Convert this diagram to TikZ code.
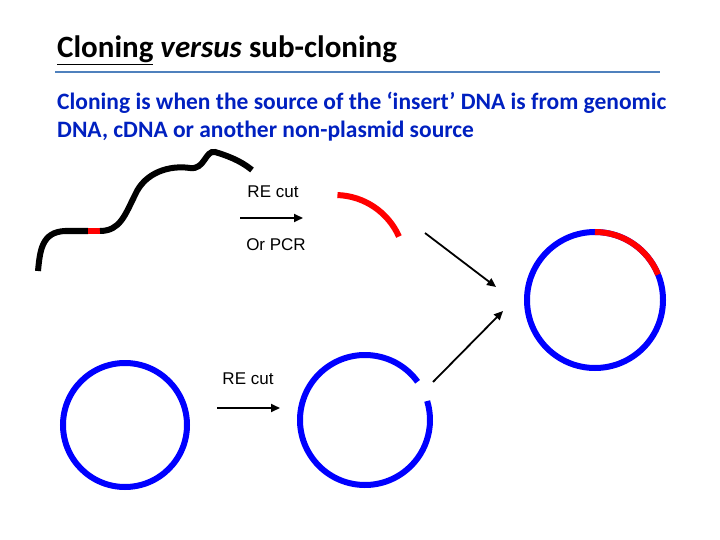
\documentclass[tikz,border=0pt]{standalone}
\usepackage{fontspec}
\setmainfont{Carlito}
\newfontfamily\arial{Liberation Sans}
\usetikzlibrary{arrows.meta}
\definecolor{tblue}{RGB}{0,32,192}
\definecolor{rule}{RGB}{79,129,189}
\begin{document}
\begin{tikzpicture}[x=1pt,y=-1pt,
  dna/.style={line width=6pt},
  arr/.style={line width=1.8pt,-{Triangle[length=9pt,width=8pt]}},
  lbl/.style={font=\arial\fontsize{17}{20}\selectfont,anchor=base}]
\useasboundingbox (0,0) rectangle (720,540);
\node[anchor=base west,inner sep=0,font=\bfseries\fontsize{31}{36}\selectfont] (title) at (57,58) {\underline{Cloning} \textit{versus} sub-cloning};
\draw[rule,line width=1.5pt] (55,72) -- (660,72);
\node[anchor=base west,inner sep=0,align=left,text=tblue,font=\bfseries\fontsize{23.5}{28}\selectfont] (sub) at (57,138) {Cloning is when the source of the ‘insert’ DNA is from genomic\\DNA, cDNA or another non-plasmid source};
% genomic DNA
\draw[dna] (38,271) .. controls (40,250) and (42,232) .. (65,231) -- (88,231);
\draw[dna,red] (88,231) -- (100,231);
\draw[dna] (100,231) .. controls (120,231) and (125,215) .. (135,195) .. controls (145,172) and (170,165) .. (190,168) .. controls (205,170) and (205,150) .. (215,152) .. controls (225,155) and (240,160) .. (252,170);
\draw[dna,red] (335,265) ++(-88:70) arc[start angle=-88,end angle=-24,radius=70];
% circles
\draw[dna,blue] (125,425) circle[radius=62];
\draw[dna,blue] (365,420) ++(-36:65) arc[start angle=-36,end angle=-377,radius=65];
\draw[dna,blue] (595,300) circle[radius=68];
\draw[dna,red] (595,300) ++(-90:68) arc[start angle=-90,end angle=-22,radius=68];
% arrows
\coordinate (a1) at (240,218); \coordinate (a2) at (303,218);
\draw[arr] (a1) -- (a2);
\node[lbl] (t1) at (273,198) {RE cut};
\node[lbl] (t2) at (276,251) {Or PCR};
\coordinate (b1) at (217,408); \coordinate (b2) at (280,408);
\draw[arr] (b1) -- (b2);
\node[lbl] (t3) at (248,384) {RE cut};
\coordinate (c1) at (425,233); \coordinate (c2) at (496,287);
\draw[arr] (c1) -- (c2);
\coordinate (d1) at (433,382); \coordinate (d2) at (503,311);
\draw[arr] (d1) -- (d2);
\end{tikzpicture}
\end{document}
